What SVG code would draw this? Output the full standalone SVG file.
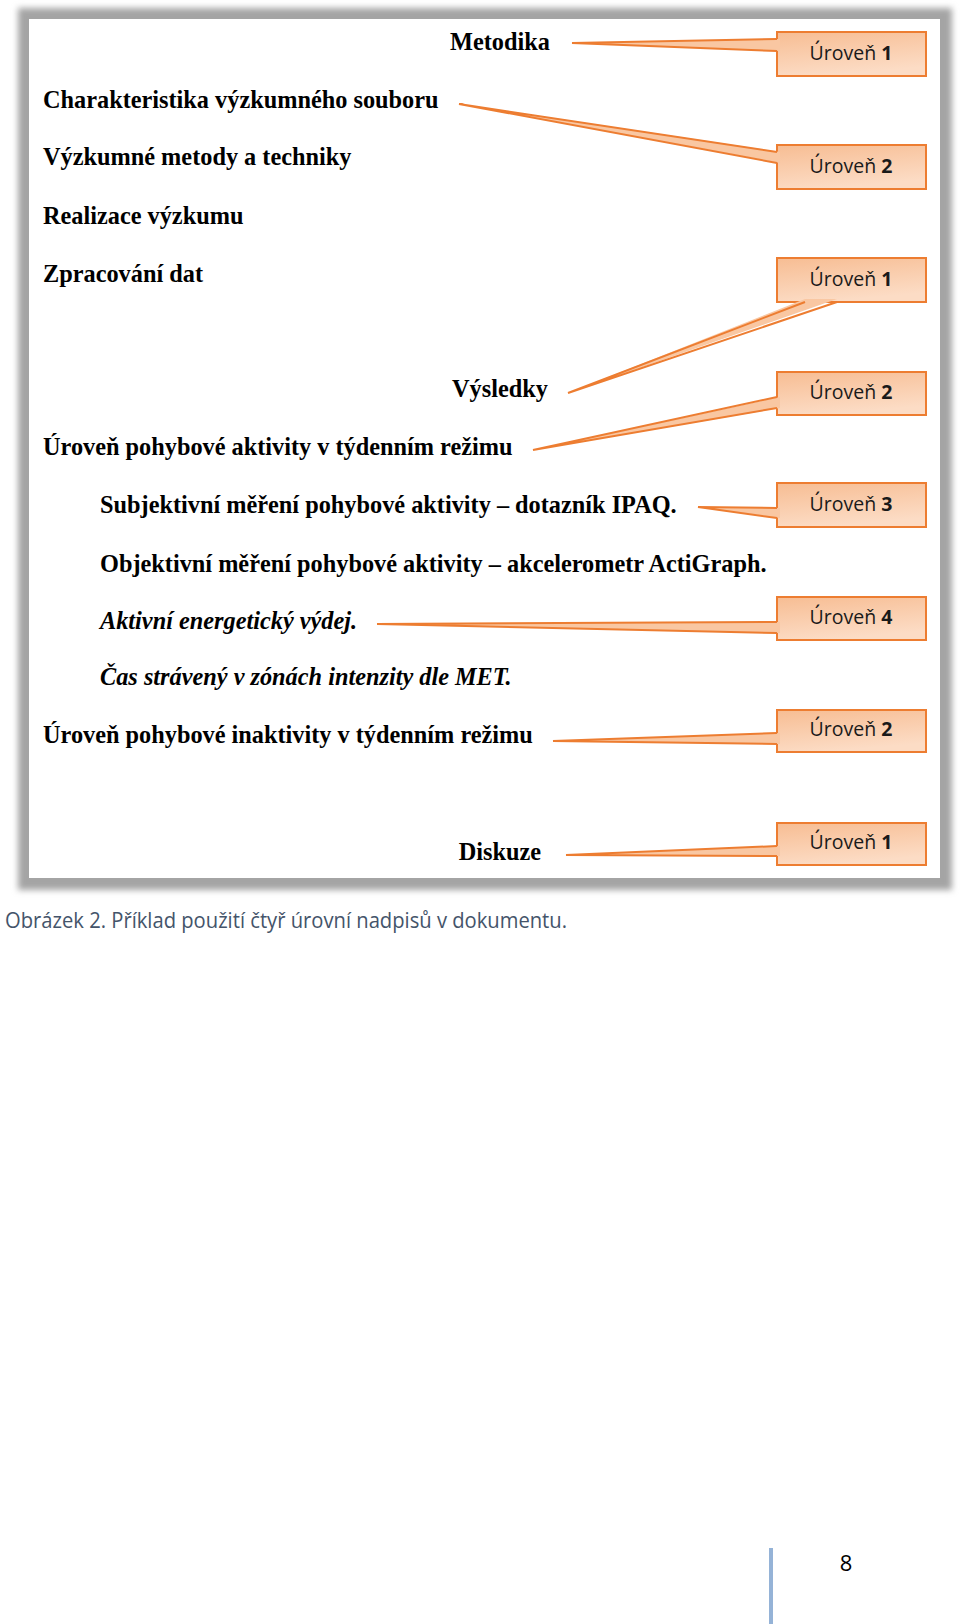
<svg xmlns="http://www.w3.org/2000/svg" width="960" height="1624" viewBox="0 0 960 1624">
  <defs>
    <filter id="soft" x="-5%" y="-5%" width="110%" height="110%">
      <feGaussianBlur stdDeviation="3"/>
    </filter>
    <linearGradient id="boxfill" x1="0" y1="0" x2="0.3" y2="1">
      <stop offset="0" stop-color="#f7bd93"/>
      <stop offset="1" stop-color="#fcdcc5"/>
    </linearGradient>
    <style>
      .h { font-family: "Liberation Serif", "Times New Roman", serif; font-size: 24.3px; font-weight: bold; fill: #000; }
      .i { font-style: italic; }
      .c { text-anchor: middle; }
      .box { fill: url(#boxfill); stroke: #ed7d31; stroke-width: 2; }
      .lbl { font-family: "Open Sans", "Liberation Sans", sans-serif; font-size: 19.5px; fill: #1a1a1a; text-anchor: middle; }
      .lbl tspan { font-weight: bold; }
      .tailfill { fill: #f9c7a2; stroke: none; }
      .tailline { fill: none; stroke: #ed7d31; stroke-width: 2; stroke-linejoin: miter; }
      .cap { font-family: "Open Sans", "Liberation Sans", sans-serif; font-size: 22px; fill: #44546a; }
      .pg { font-family: "Open Sans", "Liberation Sans", sans-serif; font-size: 22px; fill: #000; text-anchor: middle; }
    </style>
  </defs>

  <rect width="960" height="1624" fill="#ffffff"/>

  <!-- picture frame -->
  <g id="frame">
    <rect x="18" y="8" width="934" height="882" fill="#a4a4a4" filter="url(#soft)"/>
    <rect x="29" y="19" width="911" height="859" fill="#ffffff"/>
  </g>

  <!-- headings -->
  <g id="h-metodika"><text class="h c" x="500" y="50">Metodika</text></g>
  <g id="h-charakteristika"><text class="h" x="43" y="108">Charakteristika výzkumného souboru</text></g>
  <g id="h-metody"><text class="h" x="43" y="165">Výzkumné metody a techniky</text></g>
  <g id="h-realizace"><text class="h" x="43" y="224">Realizace výzkumu</text></g>
  <g id="h-zpracovani"><text class="h" x="43" y="282">Zpracování dat</text></g>
  <g id="h-vysledky"><text class="h c" x="500" y="397">Výsledky</text></g>
  <g id="h-aktivita"><text class="h" x="43" y="455">Úroveň pohybové aktivity v týdenním režimu</text></g>
  <g id="h-subjektivni"><text class="h" x="100" y="513">Subjektivní měření pohybové aktivity – dotazník IPAQ.</text></g>
  <g id="h-objektivni"><text class="h" x="100" y="572">Objektivní měření pohybové aktivity – akcelerometr ActiGraph.</text></g>
  <g id="h-vydej"><text class="h i" x="100" y="629">Aktivní energetický výdej.</text></g>
  <g id="h-cas"><text class="h i" x="100" y="685">Čas strávený v zónách intenzity dle MET.</text></g>
  <g id="h-inaktivita"><text class="h" x="43" y="743">Úroveň pohybové inaktivity v týdenním režimu</text></g>
  <g id="h-diskuze"><text class="h c" x="500" y="860">Diskuze</text></g>

  <!-- callout boxes -->
  <g id="callout-1">
    <rect class="box" x="777" y="32" width="149" height="44"/>
    <text class="lbl" x="851" y="60">Úroveň <tspan>1</tspan></text>
  </g>
  <g id="callout-2">
    <rect class="box" x="777" y="145" width="149" height="44"/>
    <text class="lbl" x="851" y="173">Úroveň <tspan>2</tspan></text>
  </g>
  <g id="callout-3">
    <rect class="box" x="777" y="258" width="149" height="44"/>
    <text class="lbl" x="851" y="286">Úroveň <tspan>1</tspan></text>
  </g>
  <g id="callout-4">
    <rect class="box" x="777" y="372" width="149" height="43"/>
    <text class="lbl" x="851" y="399">Úroveň <tspan>2</tspan></text>
  </g>
  <g id="callout-5">
    <rect class="box" x="777" y="483" width="149" height="44"/>
    <text class="lbl" x="851" y="511">Úroveň <tspan>3</tspan></text>
  </g>
  <g id="callout-6">
    <rect class="box" x="777" y="597" width="149" height="43"/>
    <text class="lbl" x="851" y="624">Úroveň <tspan>4</tspan></text>
  </g>
  <g id="callout-7">
    <rect class="box" x="777" y="710" width="149" height="42"/>
    <text class="lbl" x="851" y="736">Úroveň <tspan>2</tspan></text>
  </g>
  <g id="callout-8">
    <rect class="box" x="777" y="823" width="149" height="42"/>
    <text class="lbl" x="851" y="849">Úroveň <tspan>1</tspan></text>
  </g>

  <!-- connectors: callout tails -->
  <g id="connectors">
    <polygon class="tailfill" points="780,39 572,43 780,51"/>
    <polyline class="tailline" points="777,39 572,43 777,51"/>

    <polygon class="tailfill" points="780,152 459,104 780,163"/>
    <polyline class="tailline" points="777,152 459,104 777,163"/>

    <polygon class="tailfill" points="805,299 568,393 837,299"/>
    <polyline class="tailline" points="805,302 568,393 837,302"/>

    <polygon class="tailfill" points="780,397 533,450 780,408"/>
    <polyline class="tailline" points="777,397 533,450 777,408"/>

    <polygon class="tailfill" points="780,508 698,507 780,518"/>
    <polyline class="tailline" points="777,508 698,507 777,518"/>

    <polygon class="tailfill" points="780,622 377,624 780,633"/>
    <polyline class="tailline" points="777,622 377,624 777,633"/>

    <polygon class="tailfill" points="780,733 553,741 780,744"/>
    <polyline class="tailline" points="777,733 553,741 777,744"/>

    <polygon class="tailfill" points="780,846 566,855 780,856"/>
    <polyline class="tailline" points="777,846 566,855 777,856"/>
  </g>

  <!-- caption -->
  <text class="cap" x="5" y="928" textLength="562" lengthAdjust="spacingAndGlyphs">Obrázek 2. Příklad použití čtyř úrovní nadpisů v dokumentu.</text>

  <!-- page footer -->
  <rect x="769" y="1548" width="4" height="76" fill="#95b3d7"/>
  <text class="pg" x="846" y="1571">8</text>
</svg>
